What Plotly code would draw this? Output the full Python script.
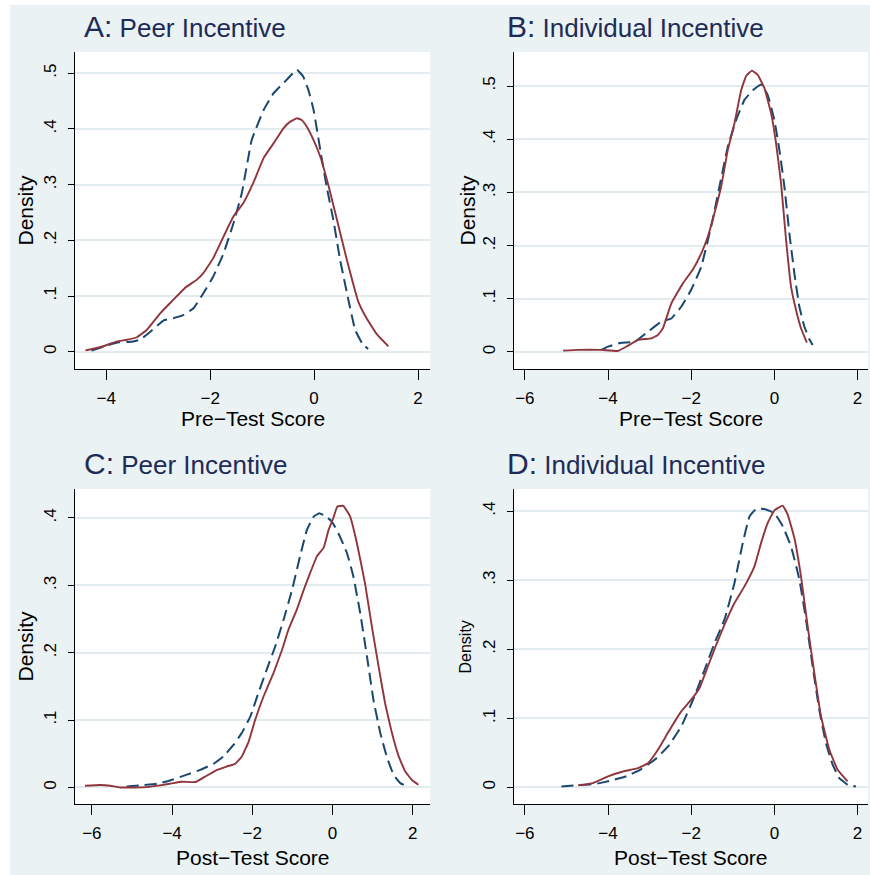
import plotly.graph_objects as go

# ---------------- data ----------------
# Panel A: Peer Incentive, Pre-Test Score
a_solid_x = [-4.40, -4.12, -3.79, -3.60, -3.41, -3.22, -2.96, -2.71, -2.48, -2.26, -2.13, -1.94, -1.74, -1.55, -1.36,
             -1.17, -0.97, -0.78, -0.59, -0.46, -0.33, -0.24, -0.14, -0.01, 0.12, 0.28, 0.44, 0.63, 0.85, 1.01, 1.21, 1.43]
a_solid_y = [0.0024, 0.008, 0.0185, 0.0215, 0.026, 0.039, 0.069, 0.093, 0.115, 0.129, 0.141, 0.168, 0.207, 0.243, 0.267,
             0.303, 0.348, 0.374, 0.401, 0.413, 0.419, 0.416, 0.404, 0.380, 0.350, 0.297, 0.237, 0.165, 0.090, 0.060, 0.031, 0.0096]
a_dash_x = [-4.28, -3.99, -3.76, -3.51, -3.35, -3.15, -2.90, -2.71, -2.51, -2.32, -2.13, -1.94, -1.74, -1.55, -1.39,
            -1.20, -0.97, -0.78, -0.53, -0.33, -0.21, -0.11, -0.01, 0.12, 0.24, 0.37, 0.50, 0.66, 0.79, 0.92, 1.04]
a_dash_y = [0.002, 0.011, 0.017, 0.018, 0.0215, 0.036, 0.056, 0.060, 0.066, 0.078, 0.105, 0.135, 0.177, 0.231, 0.285,
            0.380, 0.434, 0.464, 0.488, 0.506, 0.494, 0.470, 0.434, 0.362, 0.297, 0.237, 0.165, 0.093, 0.039, 0.016, 0.005]

# Panel B: Individual Incentive, Pre-Test Score
b_solid_x = [-5.08, -4.72, -4.16, -3.76, -3.56, -3.28, -2.96, -2.80, -2.68, -2.48, -2.20, -1.96, -1.76, -1.60, -1.40,
             -1.28, -1.12, -0.96, -0.80, -0.68, -0.54, -0.40, -0.24, -0.08, 0.04, 0.16, 0.28, 0.40, 0.52, 0.64, 0.78]
b_solid_y = [0.0025, 0.004, 0.004, 0.002, 0.010, 0.0226, 0.0257, 0.032, 0.0445, 0.091, 0.129, 0.155, 0.185, 0.217, 0.273,
             0.311, 0.380, 0.430, 0.492, 0.519, 0.529, 0.521, 0.496, 0.449, 0.392, 0.317, 0.211, 0.123, 0.079, 0.0445, 0.0175]
b_dash_x = [-4.16, -4.00, -3.68, -3.36, -3.04, -2.72, -2.48, -2.24, -2.00, -1.76, -1.52, -1.32, -1.12, -0.92, -0.72,
            -0.52, -0.32, -0.16, 0.00, 0.12, 0.24, 0.36, 0.48, 0.60, 0.72, 0.84, 0.92]
b_dash_y = [0.004, 0.010, 0.0175, 0.019, 0.038, 0.057, 0.063, 0.085, 0.117, 0.160, 0.236, 0.311, 0.386, 0.436, 0.474,
            0.492, 0.503, 0.483, 0.436, 0.380, 0.311, 0.223, 0.148, 0.085, 0.048, 0.024, 0.013]

# Panel C: Peer Incentive, Post-Test Score
c_solid_x = [-6.17, -5.79, -5.54, -5.30, -4.96, -4.63, -4.30, -3.97, -3.76, -3.42, -3.18, -2.88, -2.64, -2.43, -2.26,
             -2.09, -1.93, -1.72, -1.47, -1.26, -1.10, -0.89, -0.72, -0.56, -0.39, -0.22, -0.10, 0.02, 0.12, 0.27,
             0.44, 0.61, 0.81, 0.98, 1.15, 1.31, 1.48, 1.65, 1.81, 1.98, 2.14]
c_solid_y = [0.0025, 0.0035, 0.0025, 0.000, 0.000, 0.0005, 0.003, 0.0064, 0.0084, 0.008, 0.016, 0.026, 0.031, 0.035, 0.046,
             0.068, 0.100, 0.135, 0.170, 0.204, 0.234, 0.264, 0.293, 0.318, 0.343, 0.356, 0.382, 0.400, 0.417, 0.418,
             0.402, 0.362, 0.303, 0.239, 0.179, 0.125, 0.081, 0.046, 0.024, 0.011, 0.004]
c_dash_x = [-5.13, -4.80, -4.38, -4.05, -3.63, -3.30, -2.97, -2.72, -2.47, -2.26, -2.05, -1.85, -1.64, -1.43, -1.22,
            -1.01, -0.81, -0.64, -0.47, -0.33, -0.18, -0.02, 0.15, 0.36, 0.52, 0.69, 0.86, 1.02, 1.19, 1.35, 1.52, 1.69, 1.85]
c_dash_y = [0.0015, 0.003, 0.0054, 0.0104, 0.019, 0.026, 0.035, 0.046, 0.063, 0.081, 0.105, 0.140, 0.175, 0.209, 0.249,
            0.293, 0.343, 0.382, 0.402, 0.407, 0.403, 0.395, 0.377, 0.348, 0.313, 0.259, 0.194, 0.130, 0.081, 0.046, 0.019, 0.0064, 0.0015]

# Panel D: Individual Incentive, Post-Test Score
d_solid_x = [-4.72, -4.36, -4.00, -3.64, -3.28, -3.04, -2.80, -2.56, -2.24, -2.00, -1.80, -1.60, -1.40, -1.20, -0.96,
             -0.72, -0.48, -0.32, -0.16, 0.00, 0.20, 0.32, 0.48, 0.64, 0.80, 0.96, 1.12, 1.32, 1.52, 1.76]
d_solid_y = [0.003, 0.0063, 0.016, 0.023, 0.028, 0.035, 0.0545, 0.079, 0.110, 0.127, 0.144, 0.175, 0.2065, 0.2355, 0.267,
             0.291, 0.320, 0.354, 0.383, 0.401, 0.408, 0.395, 0.361, 0.305, 0.233, 0.1655, 0.103, 0.0545, 0.0256, 0.0087]
d_dash_x = [-5.12, -4.72, -4.32, -3.92, -3.52, -3.20, -2.88, -2.56, -2.24, -1.92, -1.68, -1.44, -1.20, -0.96, -0.76,
            -0.60, -0.44, -0.24, 0.00, 0.20, 0.40, 0.60, 0.76, 0.92, 1.08, 1.24, 1.40, 1.56, 1.76, 1.96]
d_dash_y = [0.0014, 0.0034, 0.0048, 0.010, 0.017, 0.0265, 0.040, 0.059, 0.088, 0.132, 0.170, 0.209, 0.243, 0.296, 0.354,
            0.392, 0.403, 0.403, 0.397, 0.378, 0.349, 0.301, 0.243, 0.175, 0.112, 0.064, 0.033, 0.0135, 0.0039, 0.0014]

panel_letters = ["A:", "B:", "C:", "D:"]
panel_names = ["Peer Incentive", "Individual Incentive", "Peer Incentive", "Individual Incentive"]
x_titles = ["Pre\u2212Test Score", "Pre\u2212Test Score", "Post\u2212Test Score", "Post\u2212Test Score"]
y_title = "Density"
x_tickvals = [[-4, -2, 0, 2], [-6, -4, -2, 0, 2], [-6, -4, -2, 0, 2], [-6, -4, -2, 0, 2]]
y_tickvals = [[0, 0.1, 0.2, 0.3, 0.4, 0.5], [0, 0.1, 0.2, 0.3, 0.4, 0.5], [0, 0.1, 0.2, 0.3, 0.4], [0, 0.1, 0.2, 0.3, 0.4]]
y_ticktext = [["0", ".1", ".2", ".3", ".4", ".5"], ["0", ".1", ".2", ".3", ".4", ".5"],
              ["0", ".1", ".2", ".3", ".4"], ["0", ".1", ".2", ".3", ".4"]]

# ---------------- styling / layout ----------------
W, H = 870, 875
BG = "#EAF2F3"
GRID = "#E2EBEE"
NAVY = "#1A476F"
MAROON = "#90353B"
TITLE_C = "#1E2B57"
FONT = "Liberation Sans, Arial, Helvetica, sans-serif"

def px_x(p):
    return p / W

def px_y(p):
    return 1 - p / H

# plot areas in pixels (left, right, top, bottom)
areas = [(75, 430, 52, 369), (514, 868, 52, 369), (75, 430, 489, 804), (514, 868, 489, 804)]
x_ranges = [[-4.6, 2.23], [-6.26, 2.25], [-6.42, 2.43], [-6.26, 2.25]]
y_ranges = [[-0.031, 0.538], [-0.032, 0.564], [-0.0246, 0.443], [-0.024, 0.432]]

series = [
    (a_dash_x, a_dash_y, a_solid_x, a_solid_y),
    (b_dash_x, b_dash_y, b_solid_x, b_solid_y),
    (c_dash_x, c_dash_y, c_solid_x, c_solid_y),
    (d_dash_x, d_dash_y, d_solid_x, d_solid_y),
]

fig = go.Figure()
layout = dict(
    width=W, height=H,
    paper_bgcolor=BG, plot_bgcolor="white",
    margin=dict(l=0, r=0, t=0, b=0, pad=0),
    showlegend=False,
    font=dict(family=FONT, color="black"),
)

annotations = []
for i in range(4):
    sfx = "" if i == 0 else str(i + 1)
    xa, ya = "x" + sfx, "y" + sfx
    dx, dy, sx, sy = series[i]
    fig.add_trace(go.Scatter(x=dx, y=dy, mode="lines", xaxis=xa, yaxis=ya,
                             line=dict(color=NAVY, width=2, dash="12px,6px", shape="spline", smoothing=0.3),
                             hoverinfo="skip"))
    fig.add_trace(go.Scatter(x=sx, y=sy, mode="lines", xaxis=xa, yaxis=ya,
                             line=dict(color=MAROON, width=1.9, shape="spline", smoothing=0.3),
                             hoverinfo="skip"))
    l, r, t, b = areas[i]
    layout["xaxis" + sfx] = dict(
        domain=[px_x(l), px_x(r)], anchor=ya, range=x_ranges[i],
        tickvals=x_tickvals[i], ticktext=[("\u2212" + str(-v)) if v < 0 else str(v) for v in x_tickvals[i]],
        ticks="outside", ticklen=10, tickwidth=1, tickcolor="black",
        showline=True, linecolor="black", linewidth=1, showgrid=False, zeroline=False,
        tickfont=dict(size=17, family=FONT, color="black"), ticklabelstandoff=4, fixedrange=True,
    )
    layout["yaxis" + sfx] = dict(
        domain=[px_y(b), px_y(t)], anchor=xa, range=y_ranges[i],
        tickvals=y_tickvals[i], ticktext=y_ticktext[i], tickangle=-90,
        ticks="outside", ticklen=6, tickwidth=1, tickcolor="black",
        showline=True, linecolor="black", linewidth=1,
        showgrid=True, gridcolor=GRID, gridwidth=2, zeroline=False,
        tickfont=dict(size=17, family=FONT, color="black"), ticklabelstandoff=5, fixedrange=True,
    )
    # panel title
    tx = 82 if i % 2 == 0 else 505
    ty = 27 if i < 2 else 464
    annotations.append(dict(
        xref="paper", yref="paper", x=px_x(tx), y=px_y(ty), xanchor="left", yanchor="middle",
        text="<span style='font-size:30px'>" + panel_letters[i] + "</span> " + panel_names[i],
        font=dict(size=26, family=FONT, color=TITLE_C), showarrow=False,
    ))
    # axis titles
    annotations.append(dict(
        xref="paper", yref="paper", x=px_x((l + r) / 2), y=px_y(418 if i < 2 else 857),
        xanchor="center", yanchor="middle", text=x_titles[i],
        font=dict(size=21, family=FONT, color="black"), showarrow=False,
    ))
    annotations.append(dict(
        xref="paper", yref="paper", x=px_x(25 if i % 2 == 0 else (467 if i == 1 else 465)),
        y=px_y((t + b) / 2), xanchor="center", yanchor="middle", text=y_title, textangle=-90,
        font=dict(size=21 if i != 3 else 16, family=FONT, color="black"), showarrow=False,
    ))

layout["annotations"] = annotations
layout["shapes"] = [
    dict(type="rect", xref="paper", yref="paper", x0=0, x1=px_x(10), y0=0, y1=1,
         fillcolor="white", line=dict(width=0), layer="below"),
    dict(type="rect", xref="paper", yref="paper", x0=0, x1=1, y0=px_y(5), y1=1,
         fillcolor="white", line=dict(width=0), layer="below"),
]
fig.update_layout(**layout)
fig.write_html("out.html", config={"displayModeBar": False},
               post_script="document.body.style.margin='0';document.body.style.overflow='hidden';")
